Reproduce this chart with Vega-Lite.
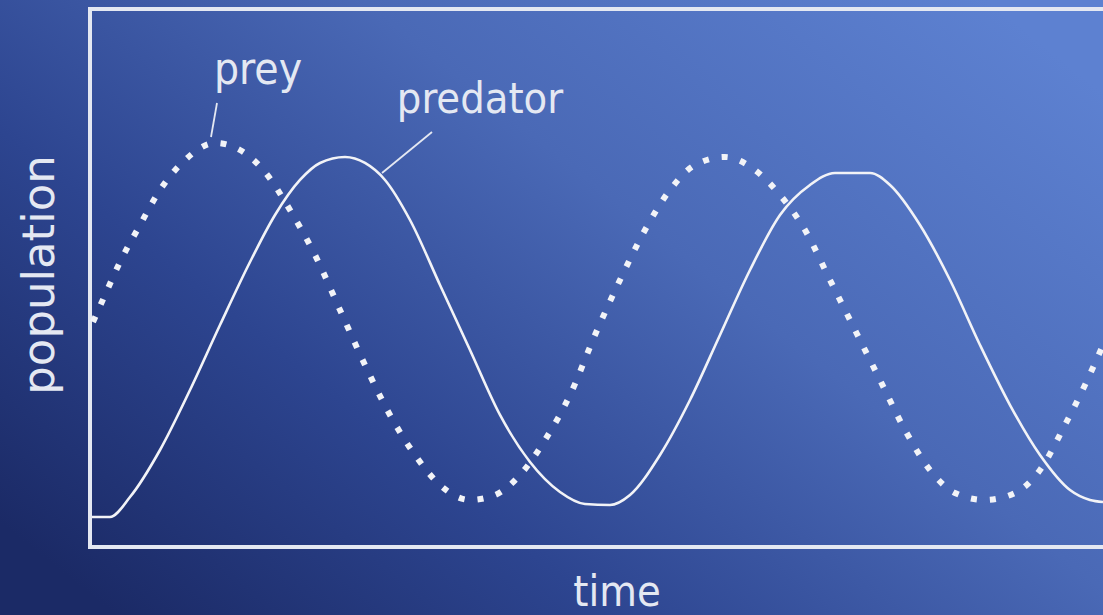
{
  "$schema": "https://vega.github.io/schema/vega-lite/v6.json",
  "width": 1103,
  "height": 615,
  "autosize": "none",
  "padding": 0,
  "background": "#1d2d68",
  "config": {
    "view": {
      "stroke": null,
      "fill": {
        "gradient": "linear",
        "x1": 0, "y1": 0.85, "x2": 1, "y2": 0.15,
        "stops": [
          {"offset": 0, "color": "#1b2a66"},
          {"offset": 0.3, "color": "#2d4590"},
          {"offset": 0.62, "color": "#4a69b6"},
          {"offset": 1, "color": "#5d81d1"}
        ]
      }
    },
    "axis": {"disable": true}
  },
  "datasets": {
    "predator": [
      {"time": 0.2, "population": 5.58},
      {"time": 2.0, "population": 5.58},
      {"time": 4.0, "population": 9.29},
      {"time": 7.0, "population": 18.03},
      {"time": 10.0, "population": 29.18},
      {"time": 13.0, "population": 41.26},
      {"time": 16.0, "population": 52.97},
      {"time": 18.5, "population": 61.71},
      {"time": 21.0, "population": 68.22},
      {"time": 23.0, "population": 71.38},
      {"time": 25.5, "population": 72.49},
      {"time": 27.5, "population": 71.38},
      {"time": 29.5, "population": 68.22},
      {"time": 32.0, "population": 60.78},
      {"time": 35.0, "population": 48.7},
      {"time": 38.0, "population": 36.62},
      {"time": 41.0, "population": 24.54},
      {"time": 44.0, "population": 15.8},
      {"time": 47.0, "population": 10.22},
      {"time": 49.5, "population": 7.99},
      {"time": 52.0, "population": 7.81},
      {"time": 54.0, "population": 9.67},
      {"time": 57.0, "population": 17.1},
      {"time": 60.0, "population": 27.32},
      {"time": 63.0, "population": 39.41},
      {"time": 66.0, "population": 51.49},
      {"time": 69.0, "population": 61.71},
      {"time": 72.0, "population": 67.29},
      {"time": 74.5, "population": 69.52},
      {"time": 78.0, "population": 69.52},
      {"time": 80.0, "population": 67.29},
      {"time": 83.0, "population": 59.85},
      {"time": 86.0, "population": 49.63},
      {"time": 89.0, "population": 37.55},
      {"time": 92.0, "population": 26.39},
      {"time": 95.0, "population": 17.1},
      {"time": 98.0, "population": 10.59},
      {"time": 100.0, "population": 8.74},
      {"time": 101.3, "population": 8.36}
    ],
    "prey": [
      {"time": 0.3, "population": 41.82},
      {"time": 1.5, "population": 46.84},
      {"time": 3.0, "population": 52.97},
      {"time": 5.0, "population": 59.85},
      {"time": 7.0, "population": 66.36},
      {"time": 9.5, "population": 71.93},
      {"time": 12.5, "population": 75.09},
      {"time": 15.0, "population": 73.79},
      {"time": 17.5, "population": 69.7},
      {"time": 20.0, "population": 62.64},
      {"time": 22.5, "population": 54.28},
      {"time": 25.0, "population": 44.05},
      {"time": 27.5, "population": 33.83},
      {"time": 30.0, "population": 24.54},
      {"time": 32.5, "population": 17.1},
      {"time": 35.0, "population": 11.52},
      {"time": 38.0, "population": 8.74},
      {"time": 40.5, "population": 9.67},
      {"time": 43.0, "population": 13.38},
      {"time": 45.5, "population": 19.89},
      {"time": 48.0, "population": 28.25},
      {"time": 50.5, "population": 39.41},
      {"time": 53.0, "population": 49.63},
      {"time": 55.5, "population": 58.92},
      {"time": 58.0, "population": 66.36},
      {"time": 60.5, "population": 71.0},
      {"time": 63.5, "population": 72.49},
      {"time": 66.5, "population": 70.07},
      {"time": 69.0, "population": 65.43},
      {"time": 71.5, "population": 58.92},
      {"time": 74.0, "population": 49.63},
      {"time": 76.5, "population": 40.33},
      {"time": 79.0, "population": 31.04},
      {"time": 81.5, "population": 21.75},
      {"time": 84.0, "population": 14.31},
      {"time": 86.5, "population": 10.04},
      {"time": 89.5, "population": 8.74},
      {"time": 92.5, "population": 10.04},
      {"time": 95.0, "population": 14.31},
      {"time": 97.5, "population": 22.68},
      {"time": 99.5, "population": 30.11},
      {"time": 101.3, "population": 37.55}
    ],
    "one": [{}]
  },
  "encoding": {
    "x": {"type": "quantitative", "scale": {"domain": [-9, 101.3], "nice": false, "zero": false}, "axis": null},
    "y": {"type": "quantitative", "scale": {"domain": [-12.64, 101.67], "nice": false, "zero": false}, "axis": null}
  },
  "layer": [
    {
      "data": {"name": "one"},
      "mark": {"type": "rule", "color": "#e4e8f2", "strokeWidth": 4},
      "encoding": {
        "x": {"datum": 0, "type": "quantitative"},
        "y": {"datum": -0.3, "type": "quantitative"},
        "y2": {"datum": 100.3}
      }
    },
    {
      "data": {"name": "one"},
      "mark": {"type": "rule", "color": "#e4e8f2", "strokeWidth": 4},
      "encoding": {
        "x": {"datum": -0.2, "type": "quantitative"},
        "x2": {"datum": 101.3},
        "y": {"datum": 100, "type": "quantitative"}
      }
    },
    {
      "data": {"name": "one"},
      "mark": {"type": "rule", "color": "#e4e8f2", "strokeWidth": 4},
      "encoding": {
        "x": {"datum": -0.2, "type": "quantitative"},
        "x2": {"datum": 101.3},
        "y": {"datum": 0, "type": "quantitative"}
      }
    },
    {
      "data": {"name": "predator"},
      "mark": {"type": "line", "color": "#f2f3f7", "strokeWidth": 2.6, "interpolate": "monotone"},
      "encoding": {
        "x": {"field": "time", "type": "quantitative"},
        "y": {"field": "population", "type": "quantitative"}
      }
    },
    {
      "data": {"name": "prey"},
      "mark": {"type": "line", "color": "#f2f3f7", "strokeWidth": 6, "strokeDash": [6, 13], "strokeCap": "butt", "interpolate": "monotone"},
      "encoding": {
        "x": {"field": "time", "type": "quantitative"},
        "y": {"field": "population", "type": "quantitative"}
      }
    },
    {
      "data": {"name": "one"},
      "mark": {"type": "rule", "color": "#e4e8f2", "strokeWidth": 1.8},
      "encoding": {
        "x": {"datum": 12.7, "type": "quantitative"},
        "y": {"datum": 82.53, "type": "quantitative"},
        "x2": {"datum": 12.1},
        "y2": {"datum": 76.21}
      }
    },
    {
      "data": {"name": "one"},
      "mark": {"type": "rule", "color": "#e4e8f2", "strokeWidth": 1.8},
      "encoding": {
        "x": {"datum": 34.2, "type": "quantitative"},
        "y": {"datum": 77.14, "type": "quantitative"},
        "x2": {"datum": 29.2},
        "y2": {"datum": 69.52}
      }
    },
    {
      "data": {"name": "one"},
      "mark": {"type": "text", "text": "prey", "color": "#e4e8f2", "font": "DejaVu Sans Condensed, DejaVu Sans, sans-serif", "fontSize": 44, "align": "center", "baseline": "alphabetic"},
      "encoding": {
        "x": {"datum": 16.8, "type": "quantitative"},
        "y": {"datum": 86.06, "type": "quantitative"}
      }
    },
    {
      "data": {"name": "one"},
      "mark": {"type": "text", "text": "predator", "color": "#e4e8f2", "font": "DejaVu Sans Condensed, DejaVu Sans, sans-serif", "fontSize": 43, "align": "center", "baseline": "alphabetic"},
      "encoding": {
        "x": {"datum": 39, "type": "quantitative"},
        "y": {"datum": 80.67, "type": "quantitative"}
      }
    },
    {
      "data": {"name": "one"},
      "mark": {"type": "text", "text": "time", "color": "#e4e8f2", "font": "DejaVu Sans Condensed, DejaVu Sans, sans-serif", "fontSize": 43, "align": "center", "baseline": "alphabetic"},
      "encoding": {
        "x": {"datum": 52.7, "type": "quantitative"},
        "y": {"datum": -11.0, "type": "quantitative"}
      }
    },
    {
      "data": {"name": "one"},
      "mark": {"type": "text", "text": "population", "color": "#e4e8f2", "font": "DejaVu Sans, sans-serif", "fontSize": 45, "angle": 270, "align": "center", "baseline": "alphabetic"},
      "encoding": {
        "x": {"datum": -3.6, "type": "quantitative"},
        "y": {"datum": 50.56, "type": "quantitative"}
      }
    }
  ]
}
